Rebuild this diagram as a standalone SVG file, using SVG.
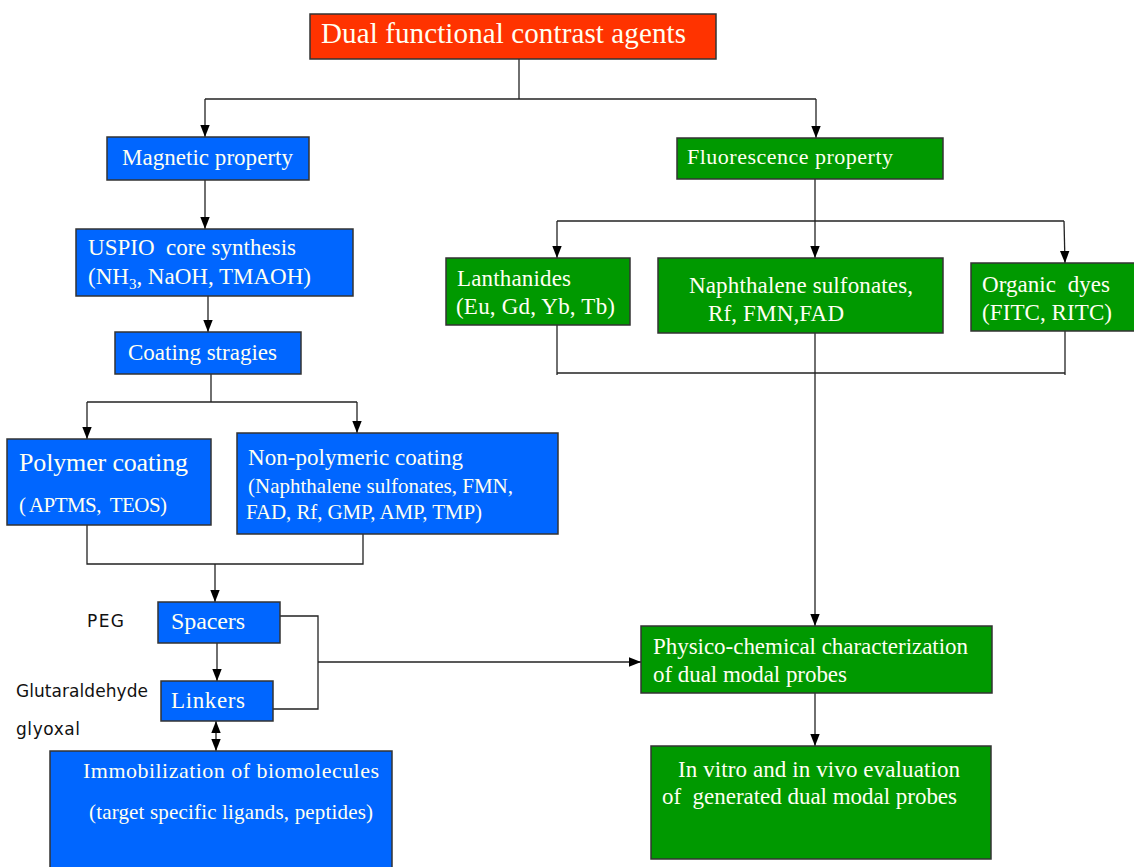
<svg xmlns="http://www.w3.org/2000/svg" width="1134" height="867" viewBox="0 0 1134 867">
<style>
.b{fill:#0066FF;stroke:#333;stroke-width:1.5}
.g{fill:#009900;stroke:#333;stroke-width:1.5}
.r{fill:#FF3300;stroke:#333;stroke-width:1.5}
.t{font-family:"Liberation Serif","Times New Roman",serif;fill:#FFFFF2;white-space:pre}
.k{font-family:"DejaVu Sans",Verdana,sans-serif;fill:#111;font-size:17px}
.c line,.c polyline{stroke:#222;stroke-width:1.3;fill:none}
</style>
<defs>
<marker id="a" viewBox="0 0 12 10" refX="12" refY="5" markerWidth="12" markerHeight="10" markerUnits="userSpaceOnUse" orient="auto-start-reverse">
<path d="M0,0.3 L12,5 L0,9.7 Z" fill="#000"/>
</marker>
</defs>
<rect width="1134" height="867" fill="#fff"/>

<g class="c" id="connectors">
<line x1="519" y1="59" x2="519" y2="99"/>
<line x1="205" y1="99" x2="816" y2="99"/>
<line x1="205" y1="99" x2="205" y2="137" marker-end="url(#a)"/>
<line x1="816" y1="99" x2="816" y2="138" marker-end="url(#a)"/>
<line x1="205" y1="180" x2="205" y2="229" marker-end="url(#a)"/>
<line x1="208" y1="296" x2="208" y2="332" marker-end="url(#a)"/>
<line x1="211" y1="374" x2="211" y2="402"/>
<line x1="87" y1="402" x2="357" y2="402"/>
<line x1="87" y1="402" x2="87" y2="439" marker-end="url(#a)"/>
<line x1="357" y1="402" x2="357" y2="433" marker-end="url(#a)"/>
<polyline points="87,525 87,564 363,564 363,534"/>
<line x1="215" y1="564" x2="215" y2="602" marker-end="url(#a)"/>
<line x1="217" y1="643" x2="217" y2="681" marker-end="url(#a)"/>
<polyline points="280,616 318,616 318,709 273,709"/>
<line x1="318" y1="662" x2="641" y2="662" marker-end="url(#a)"/>
<line x1="216" y1="721" x2="216" y2="751" marker-start="url(#a)" marker-end="url(#a)"/>
<line x1="815" y1="179" x2="815" y2="221"/>
<line x1="557" y1="221" x2="1064" y2="221"/>
<line x1="557" y1="221" x2="557" y2="258" marker-end="url(#a)"/>
<line x1="815" y1="221" x2="815" y2="258" marker-end="url(#a)"/>
<line x1="1064" y1="221" x2="1065" y2="263" marker-end="url(#a)"/>
<line x1="557" y1="325" x2="557" y2="375"/>
<line x1="1065" y1="331" x2="1065" y2="375"/>
<line x1="557" y1="373" x2="1065" y2="373"/>
<line x1="815" y1="333" x2="815" y2="626" marker-end="url(#a)"/>
<line x1="815" y1="693" x2="815" y2="746" marker-end="url(#a)"/>
</g>

<g id="n-dual">
<rect class="r" x="310" y="14" width="406" height="45"/>
<text class="t" x="321" y="43" font-size="29" textLength="365">Dual functional contrast agents</text>
</g>

<g id="n-magnetic">
<rect class="b" x="107" y="137" width="202" height="43"/>
<text class="t" x="122" y="165" font-size="23" textLength="171">Magnetic property</text>
</g>

<g id="n-uspio">
<rect class="b" x="76" y="229" width="277" height="67"/>
<text class="t" x="88" y="255" font-size="23" textLength="208">USPIO  core synthesis</text>
<text class="t" x="88" y="284" font-size="23" textLength="223">(NH<tspan font-size="15" dy="5">3</tspan><tspan dy="-5">, NaOH, TMAOH)</tspan></text>
</g>

<g id="n-coating">
<rect class="b" x="115" y="332" width="186" height="42"/>
<text class="t" x="128" y="360" font-size="23" textLength="149">Coating stragies</text>
</g>

<g id="n-polymer">
<rect class="b" x="7" y="439" width="204" height="86"/>
<text class="t" x="19" y="471" font-size="26" textLength="169">Polymer coating</text>
<text class="t" x="19" y="512" font-size="21" textLength="148">( APTMS,  TEOS)</text>
</g>

<g id="n-nonpolymer">
<rect class="b" x="237" y="433" width="321" height="101"/>
<text class="t" x="248" y="465" font-size="23" textLength="215">Non-polymeric coating</text>
<text class="t" x="248" y="493" font-size="21" textLength="265">(Naphthalene sulfonates, FMN,</text>
<text class="t" x="246" y="519" font-size="21" textLength="236">FAD, Rf, GMP, AMP, TMP)</text>
</g>

<g id="n-spacers">
<rect class="b" x="158" y="602" width="122" height="41"/>
<text class="t" x="171" y="629" font-size="24" textLength="74">Spacers</text>
</g>

<g id="n-linkers">
<rect class="b" x="161" y="681" width="112" height="40"/>
<text class="t" x="171" y="708" font-size="23" textLength="74">Linkers</text>
</g>

<g id="n-labels">
<text class="k" x="87" y="627" textLength="37">PEG</text>
<text class="k" x="16" y="697" textLength="132">Glutaraldehyde</text>
<text class="k" x="16" y="735" textLength="64">glyoxal</text>
</g>

<g id="n-immob">
<rect class="b" x="50" y="751" width="342" height="125"/>
<text class="t" x="83" y="778" font-size="22" textLength="296">Immobilization of biomolecules</text>
<text class="t" x="89" y="819" font-size="21" textLength="284">(target specific ligands, peptides)</text>
</g>

<g id="n-fluor">
<rect class="g" x="677" y="138" width="266" height="41"/>
<text class="t" x="687" y="164" font-size="22" textLength="206">Fluorescence property</text>
</g>

<g id="n-lanth">
<rect class="g" x="446" y="258" width="184" height="67"/>
<text class="t" x="457" y="286" font-size="23" textLength="114">Lanthanides</text>
<text class="t" x="456" y="314" font-size="23" textLength="159">(Eu, Gd, Yb, Tb)</text>
</g>

<g id="n-naph">
<rect class="g" x="658" y="258" width="285" height="75"/>
<text class="t" x="689" y="293" font-size="23" textLength="224">Naphthalene sulfonates,</text>
<text class="t" x="708" y="321" font-size="23" textLength="136">Rf, FMN,FAD</text>
</g>

<g id="n-organic">
<rect class="g" x="971" y="263" width="165" height="68"/>
<text class="t" x="982" y="292" font-size="23" textLength="128">Organic  dyes</text>
<text class="t" x="982" y="320" font-size="23" textLength="130">(FITC, RITC)</text>
</g>

<g id="n-physico">
<rect class="g" x="641" y="626" width="351" height="67"/>
<text class="t" x="653" y="654" font-size="23" textLength="315">Physico-chemical characterization</text>
<text class="t" x="653" y="682" font-size="23" textLength="194">of dual modal probes</text>
</g>

<g id="n-invitro">
<rect class="g" x="651" y="746" width="340" height="113"/>
<text class="t" x="678" y="777" font-size="23" textLength="282">In vitro and in vivo evaluation</text>
<text class="t" x="662" y="804" font-size="23" textLength="295">of  generated dual modal probes</text>
</g>
</svg>
